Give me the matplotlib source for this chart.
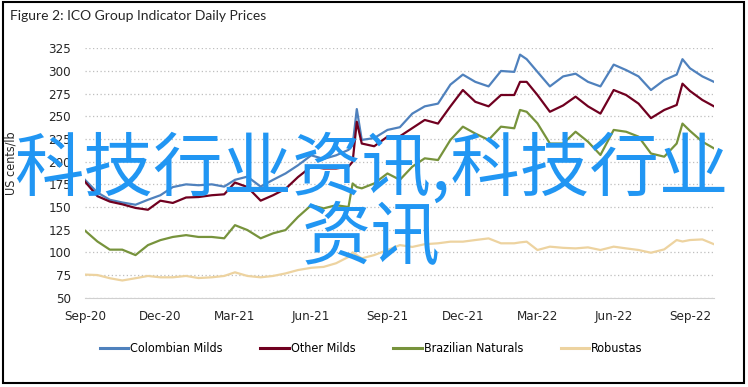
import pandas as pd
import matplotlib
matplotlib.use("Agg")
import matplotlib.pyplot as plt
import matplotlib.dates as mdates
from matplotlib.patches import Rectangle

# ICO group indicator prices, US cents/lb
dates = [
    '2020-09-01', '2020-09-16', '2020-10-01', '2020-10-16', '2020-11-01', '2020-11-16',
    '2020-12-01', '2020-12-16', '2021-01-01', '2021-01-16', '2021-02-01', '2021-02-16',
    '2021-03-01', '2021-03-16', '2021-04-01', '2021-04-16', '2021-05-01', '2021-05-16',
    '2021-06-01', '2021-06-16', '2021-07-01', '2021-07-16', '2021-07-21', '2021-07-26',
    '2021-08-01', '2021-08-16', '2021-09-01', '2021-09-16', '2021-10-01', '2021-10-16',
    '2021-11-01', '2021-11-16', '2021-12-01', '2021-12-16', '2022-01-01', '2022-01-16',
    '2022-02-01', '2022-02-08', '2022-02-16', '2022-03-01', '2022-03-16', '2022-04-01',
    '2022-04-16', '2022-05-01', '2022-05-16', '2022-06-01', '2022-06-16', '2022-07-01',
    '2022-07-16', '2022-08-01', '2022-08-16', '2022-08-23', '2022-09-01', '2022-09-16',
    '2022-09-30',
]
colombian_milds = [
    180, 166, 158, 155, 152.5, 158, 163, 172, 175, 174, 175, 172.5,
    180, 183.5, 172.5, 180, 187, 196, 207, 203, 207, 213, 218, 258,
    224, 226, 235, 238, 253, 261, 264, 285, 296, 288, 283, 300,
    299, 318, 313, 299, 283, 294, 297, 288, 283, 307, 301, 294,
    279, 290, 296, 313, 303, 294, 288,
]
other_milds = [
    178, 162, 156, 153, 149, 147, 157, 154.5, 160.5, 161, 163, 164,
    177, 172, 157, 163, 170, 183, 194.5, 192.5, 192.5, 194.5, 200, 244,
    220, 217, 227.6, 228, 237, 246, 242, 261, 279, 266, 261, 273.5,
    273.5, 288, 288, 273.5, 255, 262, 271.7, 261, 253, 279, 273.5, 264,
    248, 257, 262.5, 286, 278, 268, 261,
]
brazilian_naturals = [
    124, 112, 103, 103, 97, 108, 113.5, 117, 119, 117, 117, 115.5,
    130, 124.6, 115.5, 121, 124.6, 139, 152, 148.5, 152, 150, 176, 172,
    170.6, 176, 187, 180, 194.5, 203.7, 201.8, 224, 238.6, 231, 224, 238.6,
    236.8, 257, 255, 242.3, 220, 220, 233, 222, 207.4, 235, 233, 227.6,
    209, 205.5, 220, 242, 234, 222, 214.7,
]
robustas = [
    75.5, 75, 71.5, 69, 71.5, 74, 72.5, 72.5, 74, 71.7, 72.5, 74,
    78, 74, 72.5, 74, 76.8, 80.5, 83, 84, 88, 95, 100, 97,
    93.4, 97, 102.6, 108, 106, 109, 110, 111.8, 111.8, 113.6, 115.4, 110,
    110, 111, 111.8, 102.6, 106.3, 105, 104.4, 105.5, 102.6, 106.3, 104.4, 102.6,
    99.6, 103.3, 113.6, 112, 113.6, 114.3, 109,
]
series_names = ['Colombian Milds', 'Other Milds', 'Brazilian Naturals', 'Robustas']
series_colors = ['#4F81BD', '#700020', '#77933C', '#EDD3A0']

x = pd.to_datetime(dates)
ticks = pd.date_range('2020-09-01', '2022-09-01', freq='3MS')

narrow = dict(family='DejaVu Sans', stretch='condensed')

fig = plt.figure(figsize=(7.48, 3.87), dpi=100)
ax = fig.add_axes([0.1136, 0.2307, 0.8409, 0.6445])

for vals, name, col in zip([colombian_milds, other_milds, brazilian_naturals, robustas],
                           series_names, series_colors):
    ax.plot(x, vals, color=col, lw=1.6, label=name)

ax.set_ylim(50, 325)
ax.set_yticks(range(50, 326, 25))
ax.set_xlim(pd.Timestamp('2020-09-01'), pd.Timestamp('2022-09-30'))
ax.set_xticks(ticks)
ax.xaxis.set_major_formatter(mdates.DateFormatter('%b-%y'))

ax.grid(axis='y', color='#BFBFBF', linestyle=(0, (1, 2)), lw=0.9)
ax.set_axisbelow(True)
for s in ['top', 'right', 'left']:
    ax.spines[s].set_visible(False)
ax.spines['bottom'].set_color('#D0D0D0')
ax.tick_params(length=0, labelsize=9.5, colors='#262626')
ax.tick_params(axis='y', pad=10)
ax.tick_params(axis='x', pad=9)
for lab in ax.get_xticklabels() + ax.get_yticklabels():
    lab.set_fontstretch('condensed')

ax.set_ylabel('US cents/lb', fontsize=9, color='#262626', fontstretch='condensed')
ax.yaxis.set_label_coords(-0.108, 0.54)

leg = ax.legend(loc='center', bbox_to_anchor=(0.455, -0.205), ncol=4, frameon=False,
                handlelength=2.3, handletextpad=0.15, columnspacing=3.0,
                prop=dict(size=9, **narrow))
for h in leg.get_lines():
    h.set_linewidth(2.2)

fig.text(0.013, 0.958, 'Figure 2: ICO Group Indicator Daily Prices', fontsize=10,
         family=['Lato', 'DejaVu Sans'], color='#262626', va='center')

fig.add_artist(Rectangle((0.004, 0.011), 0.991, 0.984, transform=fig.transFigure,
                         fill=False, lw=1.5, ec='black'))

fig.text(0.496, 0.472, '科技行业资讯,科技行业\n资讯', fontsize=50, color='#2196F3',
         family=['Noto Sans CJK SC', 'DejaVu Sans'], ha='center', va='center',
         linespacing=0.95)

fig.savefig('out.png', dpi=100)
